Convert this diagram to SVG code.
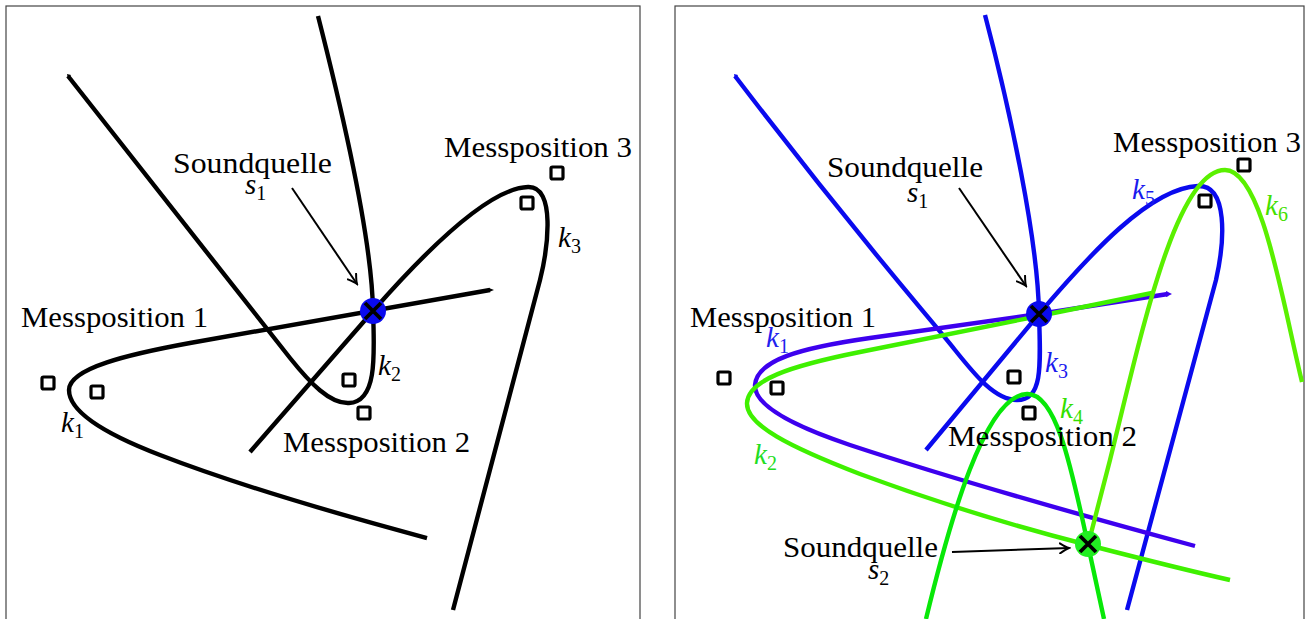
<svg xmlns="http://www.w3.org/2000/svg" width="1311" height="619" viewBox="0 0 1311 619">
<style>
.frame{fill:none;stroke:#444;stroke-width:1.2}
.c{fill:none;stroke-width:4.4;stroke-linecap:butt;stroke-linejoin:round}
.k{stroke:#000}
.bl{stroke:#0a0aee}
.pu{stroke:#3d00ee}
.g2{stroke:#3ff000}
.g4{stroke:#08e808}
.g6{stroke:#5af000}
.sq{fill:#fff;stroke:#000;stroke-width:3.2}
.arr{fill:none;stroke:#000;stroke-width:2}
.x{stroke:#000;stroke-width:3.8;stroke-linecap:butt}
text{font-family:"Liberation Serif","Times New Roman",serif;font-size:29px;fill:#000}
.m{font-style:italic}
.sub{font-style:normal;font-size:20px}
</style>
<defs>
<marker id="ah" viewBox="-10 -6 12 12" refX="0" refY="0" markerWidth="12" markerHeight="12" markerUnits="userSpaceOnUse" orient="auto">
<path d="M-9,-5 Q-3,-1 0,0 Q-3,1 -9,5" fill="none" stroke="#000" stroke-width="2" stroke-linecap="round"/>
</marker>
</defs>
<rect class="frame" x="6" y="6" width="634" height="640"/>
<rect class="frame" x="675" y="6" width="629" height="640"/>

<g id="connectors">
<!-- left panel -->
<path class="c k" d="M318,16 C342,110 372,240 373,311 C375,360 376,402 349,403 C330,404 310,383 290,358 L68,76"/>
<path class="c k" d="M250,452 L373,311 C430,246 490,188 528,187 C556,186 548,248 540,280 L453,610"/>
<path class="c k" d="M490,290 L190,343 C130,354 69,368 69,390 C69,410 100,432 160,455 C240,486 330,512 427,538"/>
<polygon points="67,74 71,75 68,79" fill="#000"/>
<polygon points="489,288 494,290 489,292" fill="#000"/>
<line class="arr" x1="292" y1="188" x2="357" y2="284" marker-end="url(#ah)"/>
<!-- right panel -->
<path class="c bl" d="M985,15 C1010,110 1038,240 1039,314 C1041,370 1042,400 1017,400 C995,400 975,375 955,350 C930,318 860,240 735,76"/>
<path class="c bl" d="M926,450 L1039,314 C1090,254 1150,188 1198,186 C1228,185 1225,240 1216,280 L1127,610"/>
<path class="c pu" d="M1168,294 L1039,314 L870,338 C800,348 757,360 755,385 C754,405 790,425 850,445 C950,478 1080,515 1195,546"/>
<path class="c g2" d="M1152,293 L1039,316 L860,352 C790,366 748,380 747,403 C746,425 790,447 860,474 C930,500 1010,525 1088,545 C1150,561 1190,571 1230,580"/>
<path class="c g4" d="M926,619 C950,520 985,395 1027,394 C1055,393 1070,460 1088,545 L1104,619"/>
<path class="c g6" d="M1088,545 L1110,460 C1140,340 1175,170 1225,170 C1262,170 1282,300 1302,382"/>
<polygon points="734,74 738,75 735,79" fill="#0a0aee"/>
<polygon points="1166,291 1172,294 1166,297" fill="#3d00ee"/>
<line class="arr" x1="959" y1="188" x2="1026" y2="286" marker-end="url(#ah)"/>
<line class="arr" x1="952" y1="552" x2="1069" y2="548" marker-end="url(#ah)"/>
</g>

<g id="source-left">
<circle cx="373" cy="311" r="13" fill="#0a0aee"/>
<path class="x" d="M365,303 L381,319 M381,303 L365,319"/>
<text x="173" y="173" textLength="159" lengthAdjust="spacingAndGlyphs">Soundquelle</text>
<text class="m" x="245" y="194">s<tspan class="sub" dy="6">1</tspan></text>
</g>
<g id="mp1-left">
<rect class="sq" x="42" y="377" width="12" height="12" rx="1.5"/>
<rect class="sq" x="91" y="386" width="12" height="12" rx="1.5"/>
<text x="21" y="327" textLength="187" lengthAdjust="spacingAndGlyphs">Messposition 1</text>
<text class="m" x="61" y="432">k<tspan class="sub" dy="6">1</tspan></text>
</g>
<g id="mp2-left">
<rect class="sq" x="343" y="374" width="12" height="12" rx="1.5"/>
<rect class="sq" x="358" y="407" width="12" height="12" rx="1.5"/>
<text x="283" y="452" textLength="187" lengthAdjust="spacingAndGlyphs">Messposition 2</text>
<text class="m" x="378" y="375">k<tspan class="sub" dy="6">2</tspan></text>
</g>
<g id="mp3-left">
<rect class="sq" x="521" y="197" width="12" height="12" rx="1.5"/>
<rect class="sq" x="551" y="167" width="12" height="12" rx="1.5"/>
<text x="444" y="157" textLength="188" lengthAdjust="spacingAndGlyphs">Messposition 3</text>
<text class="m" x="558" y="247">k<tspan class="sub" dy="6">3</tspan></text>
</g>

<g id="source1-right">
<circle cx="1039" cy="314" r="13" fill="#0a0aee"/>
<path class="x" d="M1031,306 L1047,322 M1047,306 L1031,322"/>
<text x="827" y="177" textLength="156" lengthAdjust="spacingAndGlyphs">Soundquelle</text>
<text class="m" x="907" y="202">s<tspan class="sub" dy="6">1</tspan></text>
</g>
<g id="source2-right">
<circle cx="1088" cy="544" r="13" fill="#22ee22"/>
<path class="x" d="M1080,536 L1096,552 M1096,536 L1080,552"/>
<text x="783" y="557" textLength="155" lengthAdjust="spacingAndGlyphs">Soundquelle</text>
<text class="m" x="868" y="579">s<tspan class="sub" dy="6">2</tspan></text>
</g>
<g id="mp1-right">
<rect class="sq" x="718" y="372" width="12" height="12" rx="1.5"/>
<rect class="sq" x="771" y="382" width="12" height="12" rx="1.5"/>
<text x="690" y="327" textLength="186" lengthAdjust="spacingAndGlyphs">Messposition 1</text>
<text class="m" x="766" y="347" style="fill:#2222ee">k<tspan class="sub" dy="6">1</tspan></text>
<text class="m" x="754" y="464" style="fill:#22dd22">k<tspan class="sub" dy="6">2</tspan></text>
</g>
<g id="mp2-right">
<rect class="sq" x="1008" y="371" width="12" height="12" rx="1.5"/>
<rect class="sq" x="1023" y="407" width="12" height="12" rx="1.5"/>
<text x="948" y="446" textLength="189" lengthAdjust="spacingAndGlyphs">Messposition 2</text>
<text class="m" x="1045" y="372" style="fill:#1a1aee">k<tspan class="sub" dy="6">3</tspan></text>
<text class="m" x="1060" y="418" style="fill:#33e000">k<tspan class="sub" dy="6">4</tspan></text>
</g>
<g id="mp3-right">
<rect class="sq" x="1199" y="195" width="12" height="12" rx="1.5"/>
<rect class="sq" x="1238" y="159" width="12" height="12" rx="1.5"/>
<text x="1113" y="152" textLength="188" lengthAdjust="spacingAndGlyphs">Messposition 3</text>
<text class="m" x="1132" y="199" style="fill:#1a1aee">k<tspan class="sub" dy="6">5</tspan></text>
<text class="m" x="1265" y="215" style="fill:#44e000">k<tspan class="sub" dy="6">6</tspan></text>
</g>
</svg>
